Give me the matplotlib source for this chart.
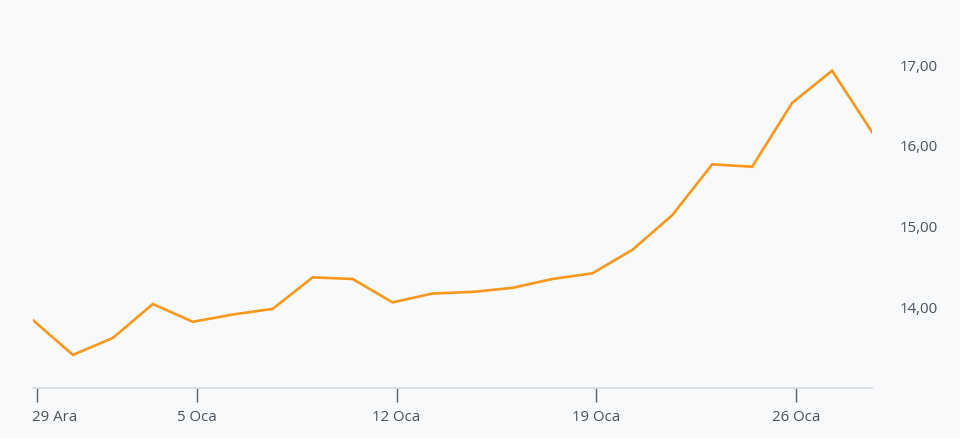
import matplotlib
matplotlib.use("Agg")
import matplotlib.pyplot as plt
import matplotlib.transforms as mtransforms

dates = ["29 Ara", "30 Ara", "31 Ara", "2 Oca", "5 Oca", "6 Oca", "7 Oca", "8 Oca", "9 Oca",
         "12 Oca", "13 Oca", "14 Oca", "15 Oca", "16 Oca", "19 Oca", "20 Oca", "21 Oca",
         "22 Oca", "23 Oca", "26 Oca", "27 Oca", "28 Oca"]
values = [13.84, 13.41, 13.62, 14.04, 13.82, 13.91, 13.98, 14.37, 14.35, 14.06, 14.17,
          14.19, 14.24, 14.35, 14.42, 14.71, 15.14, 15.77, 15.74, 16.53, 16.93, 16.17]
tick_labels = ["29 Ara", "5 Oca", "12 Oca", "19 Oca", "26 Oca"]
y_ticks = [14, 15, 16, 17]

bg = "#f8f9fb"
plt.rcParams['font.family'] = ['Open Sans', 'DejaVu Sans']

fig = plt.figure(figsize=(9.6, 4.38), dpi=100, facecolor=bg)
ax = fig.add_axes([33/960, 50/438, (872-33)/960, 388/438])
ax.set_facecolor(bg)

x = list(range(len(dates)))
ax.plot(x, values, color="#f7981d", linewidth=1.9, solid_joinstyle="miter")

ax.set_xlim(0, len(dates) - 1)
ax.set_ylim(13.0, 17.805)

tick_pos = [dates.index(t) for t in tick_labels]
ax.set_xticks([p + 0.1 for p in tick_pos])
ax.set_xticklabels(tick_labels)
ax.tick_params(axis='x', length=10, width=1.0, color="#5a5f6b", labelcolor="#4a4f5c",
               labelsize=10.8, pad=6, direction='out')
labs = ax.get_xticklabels()
labs[0].set_horizontalalignment('left')
labs[0].set_transform(labs[0].get_transform() + mtransforms.ScaledTranslation(-5/100, 0, fig.dpi_scale_trans))

ax.yaxis.tick_right()
ax.set_yticks(y_ticks)
ax.set_yticklabels([f"{v:.2f}".replace(".", ",") for v in y_ticks])
ax.tick_params(axis='y', length=0, labelcolor="#4a4f5c", labelsize=10.8, pad=20)

for s in ["top", "left", "right"]:
    ax.spines[s].set_visible(False)
ax.spines["bottom"].set_color("#d5d8de")
ax.spines["bottom"].set_linewidth(1.2)

fig.savefig("out.png", dpi=100, facecolor=bg)
